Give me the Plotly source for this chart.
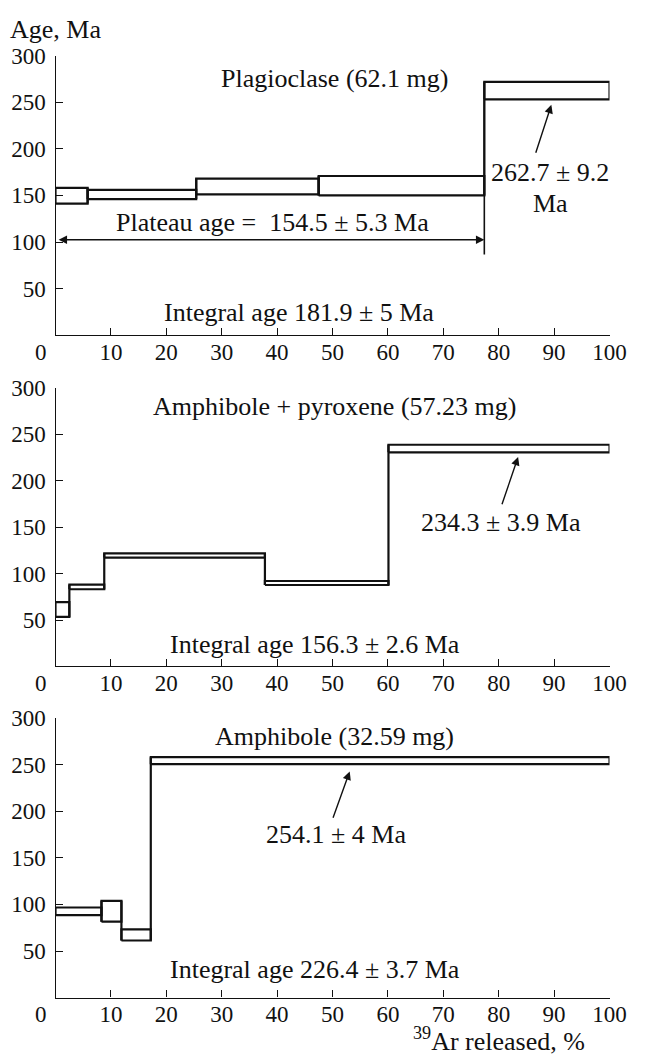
import plotly.graph_objects as go

W, H = 646, 1057

# ---------------- data ----------------
# Panel 1: Plagioclase
p1_edges = [0, 5.8, 25.4, 47.5, 77.4, 100]
p1_lo = [141.2, 146.1, 151.0, 150.0, 253.0]
p1_hi = [158.1, 156.0, 168.0, 170.8, 271.8]

# Panel 2: Amphibole + pyroxene
p2_edges = [0, 2.5, 8.8, 37.8, 60.1, 100]
p2_lo = [53.3, 83.1, 117.2, 87.7, 230.4]
p2_hi = [69.2, 88.0, 121.8, 92.0, 238.6]

# Panel 3: Amphibole
p3_edges = [0, 8.3, 11.9, 17.2, 100]
p3_lo = [88.5, 81.5, 61.3, 250.4]
p3_hi = [96.7, 103.8, 73.3, 257.9]

x_ticks = [10, 20, 30, 40, 50, 60, 70, 80, 90, 100]
y_ticks = [50, 100, 150, 200, 250, 300]

titles = ["Plagioclase (62.1 mg)", "Amphibole + pyroxene (57.23 mg)", "Amphibole (32.59 mg)"]
integral = ["Integral age 181.9 ± 5 Ma", "Integral age 156.3 ± 2.6 Ma", "Integral age 226.4 ± 3.7 Ma"]

# ---------------- layout geometry (pixels) ----------------
x_left, x_right = 57, 626
panels_px = [(44, 327), (380, 662), (714, 997)]

FONT = "Liberation Serif, 'Times New Roman', 'DejaVu Serif', serif"
FS = 26
TFS = 23
INK = "#111111"

fig = go.Figure()

def add_panel(idx, edges, lo, hi):
    xa = "x" if idx == 0 else f"x{idx+1}"
    ya = "y" if idx == 0 else f"y{idx+1}"
    n = len(lo)
    for i in range(n):
        x0, x1 = edges[i], edges[i + 1]
        fig.add_trace(go.Scatter(
            x=[x0, x1, x1, x0, x0], y=[lo[i], lo[i], hi[i], hi[i], lo[i]],
            mode="lines", line=dict(color=INK, width=2.2),
            xaxis=xa, yaxis=ya, showlegend=False, hoverinfo="skip"))
    for i in range(n - 1):
        xb = edges[i + 1]
        y0 = min(lo[i], lo[i + 1])
        y1 = max(hi[i], hi[i + 1])
        fig.add_trace(go.Scatter(
            x=[xb, xb], y=[y0, y1], mode="lines",
            line=dict(color=INK, width=2.2),
            xaxis=xa, yaxis=ya, showlegend=False, hoverinfo="skip"))

add_panel(0, p1_edges, p1_lo, p1_hi)
add_panel(1, p2_edges, p2_lo, p2_hi)
add_panel(2, p3_edges, p3_lo, p3_hi)

# plateau-limit line in panel 1 extends down below the plateau arrow
fig.add_trace(go.Scatter(x=[p1_edges[4], p1_edges[4]], y=[86.5, p1_lo[4]], mode="lines",
                         line=dict(color=INK, width=1.6), xaxis="x", yaxis="y",
                         showlegend=False, hoverinfo="skip"))

layout = dict(
    width=W, height=H, margin=dict(l=0, r=0, t=0, b=0),
    paper_bgcolor="white", plot_bgcolor="white",
    font=dict(family=FONT, size=FS, color=INK),
)
for i, (top, bot) in enumerate(panels_px):
    sfx = "" if i == 0 else str(i + 1)
    layout["xaxis" + sfx] = dict(
        domain=[x_left / W, x_right / W], range=[0, 100],
        anchor="y" + sfx, showgrid=False, zeroline=False,
        showline=True, linecolor=INK, linewidth=1.4,
        ticks="inside", ticklen=7, tickwidth=1.4, tickcolor=INK,
        tickvals=x_ticks, ticktext=[str(v) for v in x_ticks],
        tickfont=dict(family=FONT, size=TFS, color=INK),
        ticklabelstandoff=-4, fixedrange=True)
    layout["yaxis" + sfx] = dict(
        domain=[1 - bot / H, 1 - top / H], range=[0, 300],
        anchor="x" + sfx, showgrid=False, zeroline=False,
        showline=True, linecolor=INK, linewidth=1.4,
        ticks="inside", ticklen=7, tickwidth=1.4, tickcolor=INK,
        tickvals=y_ticks, ticktext=[str(v) for v in y_ticks],
        tickfont=dict(family=FONT, size=TFS, color=INK),
        ticklabelstandoff=4, fixedrange=True)
fig.update_layout(**layout)

ann = []
def txt(xref, yref, x, y, s, xanchor="center", size=FS):
    ann.append(dict(xref=xref, yref=yref, x=x, y=y, text=s, showarrow=False,
                    xanchor=xanchor, yanchor="middle",
                    font=dict(family=FONT, size=size, color=INK)))

def arrow(xref, yref, hx, hy, tx, ty, side="end"):
    ann.append(dict(xref=xref, yref=yref, axref=xref, ayref=yref,
                    x=hx, y=hy, ax=tx, ay=ty, text="", showarrow=True,
                    arrowhead=2, arrowsize=1.2, arrowwidth=1.4, arrowcolor=INK,
                    arrowside=side))

# panel 1
txt("x", "y", 50.4, 275.3, titles[0])
txt("x", "y", 89.3, 174.7, "262.7 ± 9.2")
txt("x", "y", 89.3, 141.2, "Ma")
arrow("x", "y", 89.5, 247.1, 86.6, 194.1)
txt("x", "y", 39.1, 120.7, "Plateau age =  154.5 ± 5.3 Ma")
arrow("x", "y", 77.4, 102.4, 0.3, 102.4, side="end+start")
txt("x", "y", 44.0, 24.0, integral[0])
# panel 2
txt("x2", "y2", 50.3, 279.4, titles[1])
txt("x2", "y2", 80.5, 154.4, "234.3 ± 3.9 Ma")
arrow("x2", "y2", 83.5, 225.4, 80.5, 172.9)
txt("x2", "y2", 46.9, 23.8, integral[1])
# panel 3
txt("x3", "y3", 50.3, 280.5, titles[2])
txt("x3", "y3", 50.7, 175.3, "254.1 ± 4 Ma")
arrow("x3", "y3", 53.1, 242.6, 50.0, 191.3)
txt("x3", "y3", 46.9, 30.1, integral[2])

# corner zeros, axis titles
for top, bot in panels_px:
    txt("paper", "paper", 42 / W, 1 - (bot + 17) / H, "0", size=TFS)
txt("paper", "paper", 8 / W, 1 - 18 / H, "Age, Ma", xanchor="left", size=26)
txt("paper", "paper", 512 / W, 1 - 1039 / H, "<sup>39</sup>Ar released, %", size=26)

fig.update_layout(annotations=ann)
fig.write_html("out.html")
